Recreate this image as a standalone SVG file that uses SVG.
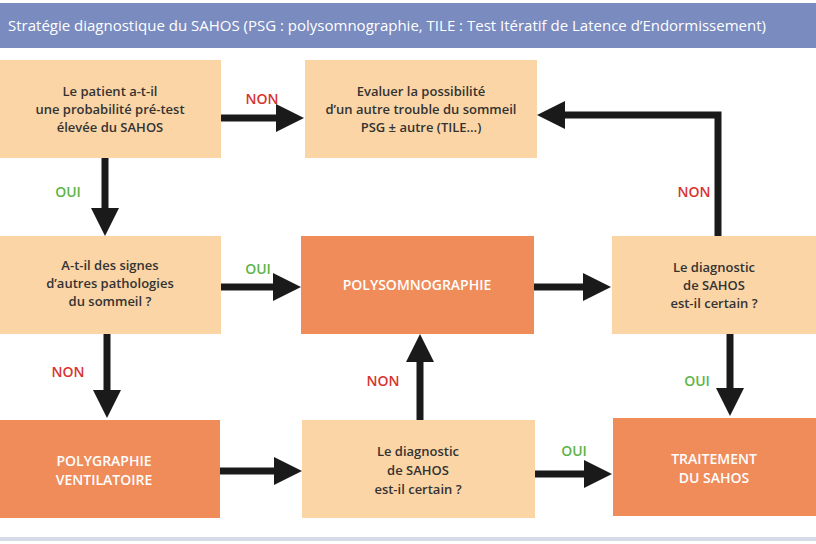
<svg xmlns="http://www.w3.org/2000/svg" width="816" height="544" viewBox="0 0 816 544">
<style>
.l{fill:#fbd5a5}.o{fill:#f08b5a}
text{font-family:"Open Sans","Liberation Sans",sans-serif;font-weight:600;font-size:13px;text-anchor:middle}
.t{fill:#333}.w{fill:#fff;font-size:14px}
.g{fill:#5cb446;font-size:14px}.r{fill:#d9332f;font-size:14px}
.c{stroke:#1a1a1a;stroke-width:7;fill:none}
</style>
<defs><marker id="a" markerWidth="4" markerHeight="4" refX="2" refY="2" orient="auto" markerUnits="strokeWidth" viewBox="0 0 4 4"><path d="M0,0L4,2L0,4Z" fill="#1a1a1a"/></marker></defs>
<rect x="0" y="0" width="816" height="544" fill="#fff"/>
<rect x="0" y="3" width="816" height="45" fill="#7a8bbf"/>
<text x="8" y="31" style="text-anchor:start;fill:#fff;font-size:15px;font-weight:400">Stratégie diagnostique du SAHOS (PSG : polysomnographie, TILE : Test Itératif de Latence d’Endormissement)</text>
<rect x="0" y="537" width="816" height="4" fill="#d6dbe8"/>
<g id="connectors">
<path class="c" d="M221,118H290" marker-end="url(#a)"/>
<path class="c" d="M105,158V222" marker-end="url(#a)"/>
<path class="c" d="M221,287H287" marker-end="url(#a)"/>
<path class="c" d="M534,287H597" marker-end="url(#a)"/>
<path class="c" d="M718,236V115H551" marker-end="url(#a)"/>
<path class="c" d="M107,334V404" marker-end="url(#a)"/>
<path class="c" d="M220,471H288" marker-end="url(#a)"/>
<path class="c" d="M420,420V348" marker-end="url(#a)"/>
<path class="c" d="M535,474H598" marker-end="url(#a)"/>
<path class="c" d="M730,334V402" marker-end="url(#a)"/>
</g>
<g id="lbl">
<text class="r" x="262" y="104">NON</text>
<text class="g" x="68" y="197">OUI</text>
<text class="g" x="258" y="274">OUI</text>
<text class="r" x="694" y="197">NON</text>
<text class="r" x="68" y="377">NON</text>
<text class="r" x="383" y="386">NON</text>
<text class="g" x="697" y="386">OUI</text>
<text class="g" x="574" y="456">OUI</text>
</g>
<g id="A"><rect class="l" x="0" y="60" width="221" height="98"/><text class="t" x="110" y="96">Le patient a-t-il</text><text class="t" x="110" y="114">une probabilité pré-test</text><text class="t" x="110" y="132">élevée du SAHOS</text></g>
<g id="B"><rect class="l" x="305" y="60" width="232" height="98"/><text class="t" x="421" y="96">Evaluer la possibilité</text><text class="t" x="421" y="114">d’un autre trouble du sommeil</text><text class="t" x="421" y="132">PSG ± autre (TILE…)</text></g>
<g id="C"><rect class="l" x="0" y="236" width="221" height="98"/><text class="t" x="110" y="270">A-t-il des signes</text><text class="t" x="110" y="288">d’autres pathologies</text><text class="t" x="110" y="306">du sommeil ?</text></g>
<g id="D"><rect class="o" x="301" y="236" width="233" height="98"/><text class="w" x="417" y="290">POLYSOMNOGRAPHIE</text></g>
<g id="E"><rect class="l" x="612" y="236" width="204" height="98"/><text class="t" x="714" y="272">Le diagnostic</text><text class="t" x="714" y="290">de SAHOS</text><text class="t" x="714" y="308">est-il certain ?</text></g>
<g id="F"><rect class="o" x="0" y="420" width="220" height="98"/><text class="w" x="104" y="466">POLYGRAPHIE</text><text class="w" x="104" y="485">VENTILATOIRE</text></g>
<g id="G"><rect class="l" x="302" y="420" width="233" height="98"/><text class="t" x="418" y="456">Le diagnostic</text><text class="t" x="418" y="475">de SAHOS</text><text class="t" x="418" y="494">est-il certain ?</text></g>
<g id="H"><rect class="o" x="613" y="418" width="203" height="98"/><text class="w" x="714" y="464">TRAITEMENT</text><text class="w" x="714" y="483">DU SAHOS</text></g>
</svg>
